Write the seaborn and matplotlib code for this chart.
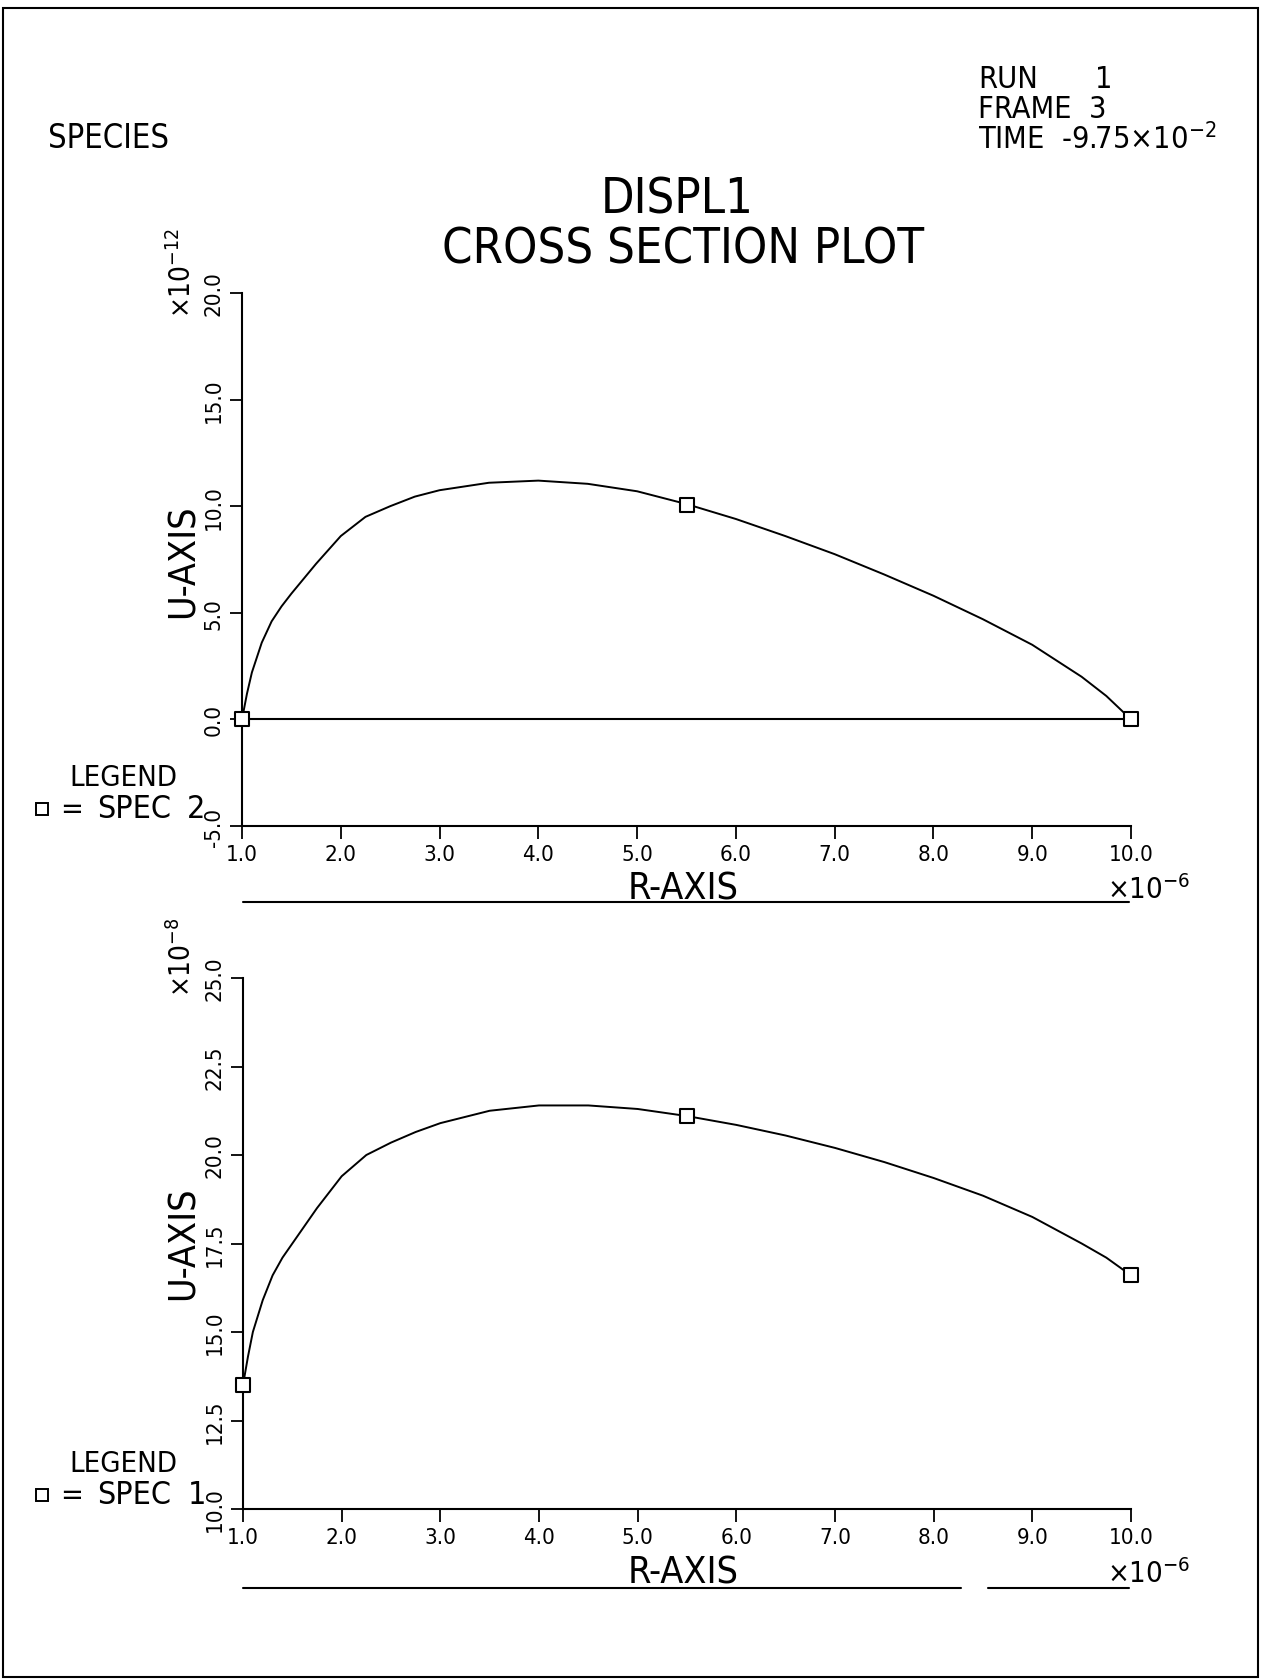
import matplotlib
matplotlib.use("Agg")
import matplotlib.pyplot as plt
import seaborn as sns
import pandas as pd
from matplotlib.lines import Line2D
from matplotlib.patches import Rectangle

# ---- data ----
r_curve = [1.0, 1.05, 1.1, 1.2, 1.3, 1.4, 1.5, 1.75, 2.0, 2.25, 2.5, 2.75, 3.0, 3.5, 4.0,
           4.5, 5.0, 5.5, 6.0, 6.5, 7.0, 7.5, 8.0, 8.5, 9.0, 9.5, 9.75, 10.0]
u_top_curve = [0.0, 1.2, 2.2, 3.6, 4.6, 5.3, 5.9, 7.3, 8.6, 9.5, 10.0, 10.45, 10.75, 11.1, 11.2,
               11.05, 10.7, 10.1, 9.4, 8.6, 7.75, 6.8, 5.8, 4.7, 3.5, 2.0, 1.1, 0.0]
u_bot_curve = [13.5, 14.3, 15.0, 15.9, 16.6, 17.1, 17.5, 18.5, 19.4, 20.0, 20.35, 20.65, 20.9, 21.25, 21.4,
               21.4, 21.3, 21.1, 20.85, 20.55, 20.2, 19.8, 19.35, 18.85, 18.25, 17.5, 17.1, 16.6]
r_marks = [1.0, 5.5, 10.0]
u_top_marks = [0.0, 10.05, 0.0]
u_bot_marks = [13.5, 21.1, 16.6]
x_ticks = [1, 2, 3, 4, 5, 6, 7, 8, 9, 10]
top_yticks = [-5, 0, 5, 10, 15, 20]
bot_yticks = [10, 12.5, 15, 17.5, 20, 22.5, 25]

sns.set_style("ticks")
plt.rcParams['font.family'] = ["DejaVu Sans"]
plt.rcParams['font.stretch'] = 'condensed'
plt.rcParams['mathtext.fontset'] = 'dejavusans'
plt.rcParams['text.color'] = 'black'
plt.rcParams['xtick.color'] = 'black'
plt.rcParams['ytick.color'] = 'black'

W, H = 1267, 1681
fig = plt.figure(figsize=(W / 100, H / 100), dpi=100)

def fx(px):
    return px / W

def fy(py):
    return 1 - py / H

# figure border
fig.patches.append(Rectangle((fx(3), fy(1678)), fx(1258) - fx(3), fy(9) - fy(1678),
                             transform=fig.transFigure, fill=False, lw=1.5, ec="black"))

def make_axes(left, top, right, bottom):
    return fig.add_axes([fx(left), fy(bottom), fx(right) - fx(left), fy(top) - fy(bottom)])

ax1 = make_axes(242, 294, 1131, 827)
ax2 = make_axes(243, 979, 1131, 1510)

def style(ax, yticks, ylim):
    ax.set_xlim(1, 10)
    ax.set_ylim(*ylim)
    ax.set_xticks(x_ticks)
    ax.set_xticklabels([f"{v:.1f}" for v in x_ticks], fontsize=16)
    ax.set_yticks(yticks)
    ax.set_yticklabels([f"{v:.1f}" for v in yticks], fontsize=16, rotation=90, va="center")
    for s in ["top", "right"]:
        ax.spines[s].set_visible(False)
    for s in ["left", "bottom"]:
        ax.spines[s].set_linewidth(1.5)
        ax.spines[s].set_color("black")
    ax.tick_params(direction="out", length=9, width=1.3, pad=4)
    ax.set_xlabel("")
    ax.set_ylabel("")
    ax.patch.set_alpha(0)

# top plot
df1 = pd.DataFrame({"r": r_curve, "u": u_top_curve})
dm1 = pd.DataFrame({"r": r_marks, "u": u_top_marks})
sns.lineplot(data=df1, x="r", y="u", ax=ax1, color="black", lw=1.4, estimator=None, sort=False)
sns.scatterplot(data=dm1, x="r", y="u", ax=ax1, marker="s", s=90, facecolor="white",
                edgecolor="black", linewidth=1.5, zorder=5, clip_on=False)
ax1.axhline(0, color="black", lw=1.5, zorder=1)
style(ax1, top_yticks, (-5, 20))

# bottom plot
df2 = pd.DataFrame({"r": r_curve, "u": u_bot_curve})
dm2 = pd.DataFrame({"r": r_marks, "u": u_bot_marks})
sns.lineplot(data=df2, x="r", y="u", ax=ax2, color="black", lw=1.4, estimator=None, sort=False)
sns.scatterplot(data=dm2, x="r", y="u", ax=ax2, marker="s", s=90, facecolor="white",
                edgecolor="black", linewidth=1.5, zorder=5, clip_on=False)
style(ax2, bot_yticks, (10, 25))

def ftext(px, py, s, **kw):
    kw.setdefault("fontsize", 22)
    fig.text(fx(px), fy(py), s, **kw)

# header texts
ftext(48, 139, "SPECIES", ha="left", va="center", fontsize=23.5)
ftext(978, 80, "RUN", ha="left", va="center")
ftext(1104, 80, "1", ha="center", va="center")
ftext(978, 109, "FRAME  3", ha="left", va="center")
ftext(978, 139, r"TIME  -9.75$\times$10$^{-2}$", ha="left", va="center")
ftext(677, 199, "DISPL1", ha="center", va="center", fontsize=35)
ftext(683, 249, "CROSS SECTION PLOT", ha="center", va="center", fontsize=35)

# axis labels
for yc, ysc, lab_exp, xlab_y in [(561, 273, "-12", 890), (1243, 957, "-8", 1574)]:
    ftext(184, yc, "U-AXIS", ha="center", va="center", rotation=90, fontsize=27)
    ftext(182, ysc, r"$\times$10$^{" + lab_exp + "}$", ha="center", va="center", rotation=90, fontsize=20)
    ftext(683, xlab_y, "R-AXIS", ha="center", va="center", fontsize=27)
    ftext(1149, xlab_y, r"$\times$10$^{-6}$", ha="center", va="center", fontsize=21)

# underline lines below R-AXIS
fig.add_artist(Line2D([fx(243), fx(1129)], [fy(903), fy(903)], color="black", lw=1.5,
                      transform=fig.transFigure))
fig.add_artist(Line2D([fx(243), fx(961)], [fy(1589), fy(1589)], color="black", lw=1.5,
                      transform=fig.transFigure))
fig.add_artist(Line2D([fx(988), fx(1129)], [fy(1589), fy(1589)], color="black", lw=1.5,
                      transform=fig.transFigure))

# legends
for ly, sy, lab, num, num_x in [(778, 810, "SPEC", "2", 196), (1464, 1496, "SPEC", "1", 197)]:
    ftext(69, ly, "LEGEND", ha="left", va="center", fontsize=21)
    fig.add_artist(Line2D([fx(42)], [fy(sy)], marker="s", markersize=8, mfc="white",
                          mec="black", mew=1.4, ls="none", transform=fig.transFigure))
    ftext(72, sy, "=", ha="center", va="center", fontsize=22)
    ftext(97, sy, lab, ha="left", va="center", fontsize=23)
    ftext(num_x, sy, num, ha="center", va="center", fontsize=23)

fig.savefig("out.png", dpi=100)
